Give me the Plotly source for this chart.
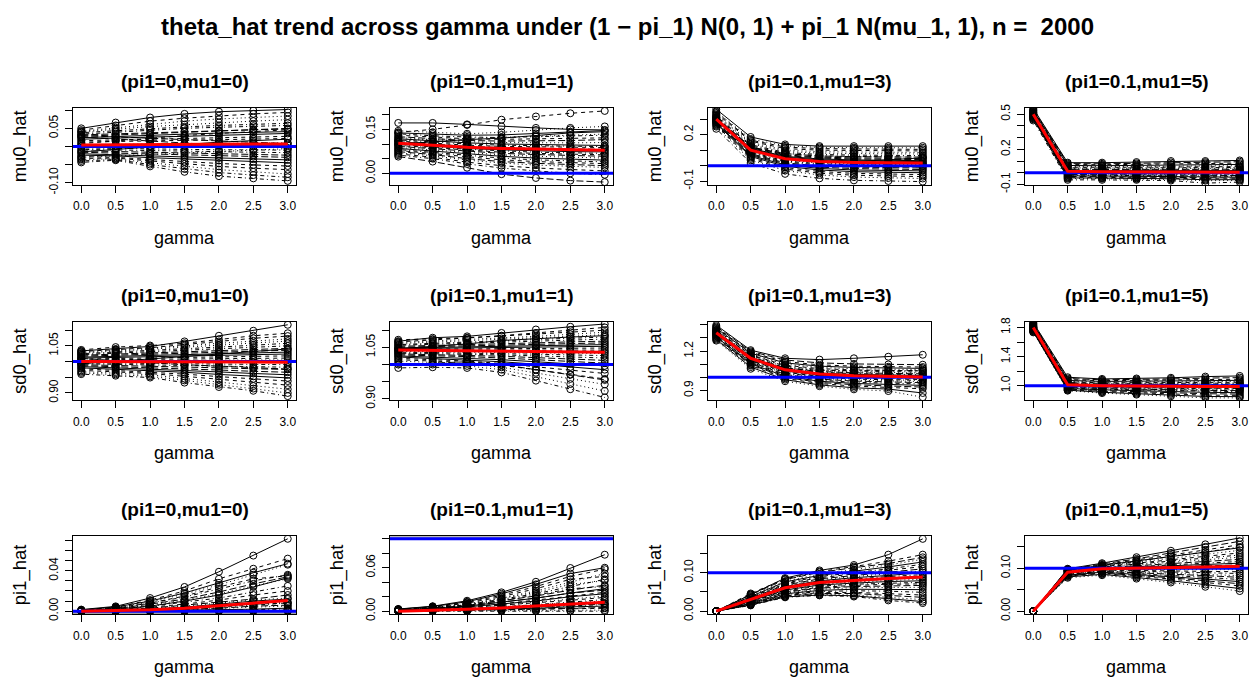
import plotly.graph_objects as go

# ---------------- data ----------------
gamma = [0.0, 0.5, 1.0, 1.5, 2.0, 2.5, 3.0]
gamma_labels = ["0.0", "0.5", "1.0", "1.5", "2.0", "2.5", "3.0"]

panel_titles = ["(pi1=0,mu1=0)", "(pi1=0.1,mu1=1)", "(pi1=0.1,mu1=3)", "(pi1=0.1,mu1=5)"]
param_names = ["mu0_hat", "sd0_hat", "pi1_hat"]
main_title = "theta_hat trend across gamma under (1 \u2212 pi_1) N(0, 1) + pi_1 N(mu_1, 1), n =  2000"

true_mu0 = [0.0, 0.0, 0.0, 0.0]
true_sd0 = [1.0, 1.0, 1.0, 1.0]
true_pi1 = [0.0, 0.1, 0.1, 0.1]

# ---- mu0_hat replicates ----
mu0_reps_1 = [
    [0.050, 0.066, 0.080, 0.090, 0.096, 0.099, 0.102],
    [0.045, 0.058, 0.070, 0.078, 0.085, 0.090, 0.094],
    [0.040, 0.048, 0.055, 0.060, 0.066, 0.070, 0.074],
    [0.034, 0.040, 0.046, 0.050, 0.053, 0.056, 0.058],
    [0.028, 0.032, 0.036, 0.040, 0.044, 0.048, 0.050],
    [0.020, 0.024, 0.026, 0.028, 0.031, 0.034, 0.036],
    [0.012, 0.014, 0.016, 0.018, 0.020, 0.021, 0.022],
    [0.005, 0.006, 0.007, 0.008, 0.008, 0.009, 0.010],
    [-0.004, -0.006, -0.006, -0.008, -0.009, -0.010, -0.010],
    [-0.012, -0.014, -0.017, -0.019, -0.021, -0.023, -0.024],
    [-0.020, -0.022, -0.026, -0.029, -0.032, -0.035, -0.037],
    [-0.028, -0.030, -0.036, -0.042, -0.047, -0.051, -0.054],
    [-0.036, -0.034, -0.045, -0.055, -0.064, -0.070, -0.076],
    [-0.044, -0.038, -0.055, -0.070, -0.082, -0.088, -0.095],
    [0.030, 0.026, 0.022, 0.018, 0.014, 0.012, 0.008],
    [-0.015, -0.008, 0.000, 0.006, 0.012, 0.016, 0.020],
    [0.008, 0.016, 0.024, 0.030, 0.036, 0.042, 0.046],
    [-0.030, -0.026, -0.020, -0.016, -0.012, -0.008, -0.006],
    [0.038, 0.044, 0.050, 0.054, 0.058, 0.061, 0.064],
    [0.032, 0.035, 0.038, 0.042, 0.044, 0.046, 0.048],
    [0.024, 0.028, 0.031, 0.034, 0.037, 0.040, 0.041],
    [0.016, 0.018, 0.020, 0.023, 0.025, 0.026, 0.028],
    [0.001, 0.001, 0.002, 0.002, 0.003, 0.003, 0.003],
    [-0.008, -0.010, -0.012, -0.013, -0.015, -0.016, -0.017],
    [-0.016, -0.018, -0.021, -0.024, -0.026, -0.028, -0.030],
    [-0.024, -0.026, -0.031, -0.035, -0.039, -0.042, -0.045],
    [-0.033, -0.032, -0.040, -0.048, -0.055, -0.060, -0.064],
    [0.042, 0.052, 0.062, 0.070, 0.076, 0.080, 0.084],
    [-0.040, -0.036, -0.050, -0.062, -0.072, -0.079, -0.085],
    [0.026, 0.020, 0.014, 0.009, 0.004, 0.000, -0.004],
]
mu0_reps_2 = [
    [0.172, 0.172, 0.167, 0.160, 0.155, 0.150, 0.148],
    [0.140, 0.150, 0.165, 0.183, 0.194, 0.205, 0.213],
    [0.145, 0.140, 0.135, 0.140, 0.148, 0.155, 0.160],
    [0.135, 0.128, 0.124, 0.122, 0.125, 0.128, 0.130],
    [0.125, 0.118, 0.112, 0.110, 0.110, 0.112, 0.115],
    [0.118, 0.110, 0.104, 0.100, 0.098, 0.096, 0.095],
    [0.110, 0.102, 0.096, 0.092, 0.090, 0.088, 0.088],
    [0.105, 0.096, 0.088, 0.084, 0.081, 0.079, 0.078],
    [0.098, 0.090, 0.082, 0.077, 0.072, 0.070, 0.068],
    [0.092, 0.084, 0.075, 0.068, 0.064, 0.060, 0.058],
    [0.085, 0.076, 0.066, 0.058, 0.052, 0.048, 0.045],
    [0.078, 0.068, 0.056, 0.046, 0.040, 0.036, 0.033],
    [0.070, 0.060, 0.045, 0.035, 0.028, 0.024, 0.020],
    [0.062, 0.050, 0.032, 0.018, 0.008, 0.000, -0.005],
    [0.057, 0.040, 0.019, -0.003, -0.016, -0.025, -0.030],
    [0.100, 0.108, 0.115, 0.120, 0.130, 0.138, 0.142],
    [0.130, 0.124, 0.118, 0.116, 0.117, 0.119, 0.121],
    [0.122, 0.114, 0.108, 0.105, 0.104, 0.104, 0.105],
    [0.114, 0.106, 0.100, 0.096, 0.094, 0.092, 0.091],
    [0.108, 0.099, 0.092, 0.088, 0.085, 0.083, 0.082],
    [0.101, 0.093, 0.085, 0.080, 0.076, 0.074, 0.073],
    [0.095, 0.087, 0.078, 0.072, 0.068, 0.065, 0.063],
    [0.088, 0.080, 0.070, 0.063, 0.058, 0.054, 0.052],
    [0.081, 0.072, 0.061, 0.052, 0.046, 0.042, 0.039],
    [0.074, 0.064, 0.050, 0.040, 0.034, 0.030, 0.026],
    [0.138, 0.134, 0.130, 0.131, 0.136, 0.142, 0.146],
    [0.066, 0.055, 0.038, 0.026, 0.018, 0.012, 0.008],
    [0.112, 0.116, 0.120, 0.124, 0.126, 0.130, 0.134],
]
mu0_reps_3 = [
    [0.364, 0.185, 0.137, 0.126, 0.126, 0.126, 0.126],
    [0.345, 0.165, 0.120, 0.110, 0.108, 0.106, 0.105],
    [0.330, 0.150, 0.100, 0.090, 0.088, 0.086, 0.085],
    [0.320, 0.135, 0.085, 0.072, 0.068, 0.066, 0.065],
    [0.312, 0.122, 0.070, 0.055, 0.050, 0.048, 0.046],
    [0.305, 0.112, 0.060, 0.043, 0.037, 0.034, 0.032],
    [0.300, 0.104, 0.050, 0.032, 0.025, 0.022, 0.020],
    [0.295, 0.096, 0.040, 0.022, 0.015, 0.012, 0.010],
    [0.290, 0.088, 0.030, 0.012, 0.005, 0.002, 0.000],
    [0.284, 0.078, 0.018, -0.002, -0.010, -0.013, -0.015],
    [0.276, 0.066, 0.005, -0.018, -0.028, -0.032, -0.034],
    [0.266, 0.052, -0.012, -0.038, -0.050, -0.055, -0.058],
    [0.252, 0.035, -0.032, -0.060, -0.074, -0.080, -0.083],
    [0.238, 0.017, -0.053, -0.082, -0.095, -0.099, -0.103],
    [0.310, 0.118, 0.078, 0.062, 0.058, 0.056, 0.055],
    [0.296, 0.094, 0.044, 0.030, 0.026, 0.040, 0.050],
    [0.338, 0.158, 0.110, 0.100, 0.098, 0.096, 0.095],
    [0.325, 0.142, 0.092, 0.081, 0.078, 0.076, 0.075],
    [0.316, 0.128, 0.078, 0.064, 0.059, 0.057, 0.055],
    [0.308, 0.117, 0.065, 0.049, 0.043, 0.041, 0.039],
    [0.302, 0.108, 0.055, 0.037, 0.031, 0.028, 0.026],
    [0.298, 0.100, 0.045, 0.027, 0.020, 0.017, 0.015],
    [0.292, 0.092, 0.035, 0.017, 0.010, 0.007, 0.005],
    [0.287, 0.083, 0.024, 0.005, -0.003, -0.006, -0.008],
    [0.280, 0.072, 0.012, -0.010, -0.019, -0.023, -0.025],
    [0.271, 0.059, -0.004, -0.028, -0.039, -0.044, -0.046],
    [0.259, 0.044, -0.022, -0.049, -0.062, -0.068, -0.071],
    [0.350, 0.172, 0.128, 0.118, 0.116, 0.115, 0.115],
]
mu0_reps_4 = [
    [0.550, 0.086, 0.086, 0.091, 0.100, 0.100, 0.105],
    [0.535, 0.070, 0.068, 0.070, 0.075, 0.080, 0.082],
    [0.525, 0.055, 0.052, 0.054, 0.056, 0.058, 0.060],
    [0.515, 0.042, 0.040, 0.040, 0.042, 0.044, 0.045],
    [0.508, 0.030, 0.028, 0.028, 0.029, 0.030, 0.030],
    [0.502, 0.020, 0.018, 0.017, 0.017, 0.018, 0.018],
    [0.498, 0.012, 0.010, 0.008, 0.008, 0.008, 0.008],
    [0.494, 0.004, 0.002, 0.000, -0.001, -0.001, -0.002],
    [0.488, -0.005, -0.007, -0.009, -0.010, -0.011, -0.012],
    [0.482, -0.015, -0.017, -0.019, -0.021, -0.023, -0.024],
    [0.475, -0.026, -0.028, -0.031, -0.034, -0.037, -0.038],
    [0.466, -0.038, -0.040, -0.043, -0.047, -0.052, -0.054],
    [0.457, -0.050, -0.051, -0.053, -0.058, -0.068, -0.067],
    [0.447, -0.061, -0.061, -0.061, -0.067, -0.089, -0.080],
    [0.540, 0.078, 0.076, 0.080, 0.088, 0.090, 0.094],
    [0.530, 0.062, 0.060, 0.062, 0.066, 0.069, 0.071],
    [0.520, 0.048, 0.046, 0.047, 0.049, 0.051, 0.052],
    [0.512, 0.036, 0.034, 0.034, 0.035, 0.037, 0.038],
    [0.505, 0.025, 0.023, 0.022, 0.023, 0.024, 0.024],
    [0.500, 0.016, 0.014, 0.012, 0.012, 0.013, 0.013],
    [0.496, 0.008, 0.006, 0.004, 0.003, 0.003, 0.003],
    [0.491, 0.000, -0.002, -0.004, -0.005, -0.006, -0.007],
    [0.485, -0.010, -0.012, -0.014, -0.016, -0.017, -0.018],
    [0.478, -0.020, -0.022, -0.025, -0.027, -0.030, -0.031],
    [0.470, -0.032, -0.034, -0.037, -0.040, -0.044, -0.046],
    [0.461, -0.044, -0.046, -0.048, -0.052, -0.060, -0.060],
]

# ---- sd0_hat replicates ----
sd0_reps_1 = [
    [1.034, 1.040, 1.048, 1.064, 1.082, 1.098, 1.117],
    [1.037, 1.046, 1.051, 1.058, 1.070, 1.082, 1.090],
    [1.030, 1.036, 1.042, 1.050, 1.058, 1.066, 1.072],
    [1.025, 1.030, 1.034, 1.040, 1.046, 1.052, 1.058],
    [1.020, 1.024, 1.026, 1.030, 1.034, 1.038, 1.042],
    [1.014, 1.017, 1.019, 1.022, 1.024, 1.027, 1.030],
    [1.008, 1.010, 1.011, 1.013, 1.014, 1.016, 1.018],
    [1.002, 1.003, 1.003, 1.004, 1.004, 1.005, 1.005],
    [0.996, 0.995, 0.994, 0.993, 0.992, 0.991, 0.990],
    [0.990, 0.988, 0.986, 0.983, 0.980, 0.977, 0.975],
    [0.984, 0.980, 0.977, 0.972, 0.967, 0.962, 0.958],
    [0.977, 0.972, 0.967, 0.960, 0.952, 0.945, 0.938],
    [0.968, 0.963, 0.958, 0.946, 0.934, 0.922, 0.912],
    [0.960, 0.955, 0.949, 0.933, 0.919, 0.907, 0.890],
    [1.010, 1.002, 0.996, 0.990, 0.985, 0.980, 0.976],
    [0.993, 1.000, 1.008, 1.016, 1.024, 1.032, 1.040],
    [1.032, 1.038, 1.044, 1.054, 1.064, 1.074, 1.081],
    [1.027, 1.033, 1.038, 1.045, 1.052, 1.059, 1.065],
    [1.022, 1.027, 1.030, 1.035, 1.040, 1.045, 1.050],
    [1.017, 1.020, 1.022, 1.026, 1.029, 1.032, 1.036],
    [1.011, 1.013, 1.015, 1.017, 1.019, 1.021, 1.024],
    [1.005, 1.006, 1.007, 1.008, 1.009, 1.010, 1.011],
    [0.999, 0.999, 0.998, 0.998, 0.998, 0.998, 0.997],
    [0.993, 0.991, 0.990, 0.988, 0.986, 0.984, 0.982],
    [0.987, 0.984, 0.981, 0.977, 0.973, 0.969, 0.966],
    [0.980, 0.976, 0.972, 0.966, 0.959, 0.953, 0.948],
    [0.972, 0.967, 0.962, 0.953, 0.943, 0.933, 0.925],
    [0.964, 0.959, 0.953, 0.940, 0.926, 0.914, 0.900],
]
sd0_reps_2 = [
    [1.068, 1.078, 1.082, 1.092, 1.102, 1.110, 1.118],
    [1.072, 1.074, 1.078, 1.084, 1.092, 1.100, 1.108],
    [1.064, 1.068, 1.072, 1.076, 1.082, 1.088, 1.094],
    [1.058, 1.062, 1.064, 1.068, 1.072, 1.076, 1.080],
    [1.053, 1.055, 1.057, 1.060, 1.063, 1.066, 1.068],
    [1.048, 1.050, 1.051, 1.052, 1.054, 1.056, 1.058],
    [1.044, 1.045, 1.045, 1.046, 1.046, 1.047, 1.048],
    [1.040, 1.040, 1.040, 1.039, 1.038, 1.038, 1.037],
    [1.036, 1.035, 1.034, 1.032, 1.030, 1.028, 1.026],
    [1.031, 1.029, 1.027, 1.024, 1.020, 1.016, 1.012],
    [1.025, 1.022, 1.019, 1.014, 1.008, 1.002, 0.996],
    [1.018, 1.014, 1.010, 1.003, 0.994, 0.984, 0.974],
    [1.010, 1.006, 1.002, 0.992, 0.976, 0.958, 0.942],
    [0.990, 0.992, 0.990, 0.977, 0.953, 0.928, 0.904],
    [1.000, 1.004, 1.008, 1.000, 0.985, 0.970, 0.955],
    [1.046, 1.052, 1.060, 1.070, 1.076, 1.080, 1.084],
    [1.066, 1.072, 1.076, 1.082, 1.088, 1.094, 1.100],
    [1.061, 1.065, 1.068, 1.072, 1.077, 1.082, 1.087],
    [1.056, 1.059, 1.061, 1.064, 1.068, 1.071, 1.074],
    [1.050, 1.052, 1.054, 1.056, 1.058, 1.061, 1.063],
    [1.046, 1.047, 1.048, 1.049, 1.050, 1.051, 1.053],
    [1.042, 1.042, 1.042, 1.042, 1.042, 1.042, 1.042],
    [1.038, 1.037, 1.037, 1.035, 1.034, 1.033, 1.032],
    [1.033, 1.032, 1.030, 1.028, 1.025, 1.022, 1.019],
    [1.028, 1.026, 1.023, 1.019, 1.014, 1.009, 1.004],
    [1.022, 1.018, 1.014, 1.008, 1.001, 0.993, 0.985],
    [1.014, 1.010, 1.006, 0.998, 0.985, 0.971, 0.958],
    [1.004, 1.000, 0.996, 0.985, 0.965, 0.943, 0.923],
]
sd0_reps_3 = [
    [1.398, 1.207, 1.145, 1.135, 1.145, 1.157, 1.172],
    [1.380, 1.190, 1.120, 1.095, 1.085, 1.080, 1.078],
    [1.368, 1.178, 1.100, 1.075, 1.065, 1.060, 1.058],
    [1.358, 1.168, 1.085, 1.058, 1.048, 1.043, 1.040],
    [1.350, 1.158, 1.072, 1.044, 1.034, 1.029, 1.026],
    [1.344, 1.150, 1.062, 1.032, 1.022, 1.017, 1.014],
    [1.338, 1.142, 1.053, 1.022, 1.010, 1.005, 1.002],
    [1.332, 1.134, 1.044, 1.012, 0.999, 0.993, 0.990],
    [1.326, 1.126, 1.034, 1.000, 0.986, 0.980, 0.976],
    [1.318, 1.116, 1.022, 0.986, 0.971, 0.964, 0.959],
    [1.308, 1.104, 1.008, 0.970, 0.953, 0.945, 0.938],
    [1.296, 1.090, 0.992, 0.952, 0.933, 0.924, 0.912],
    [1.280, 1.065, 0.970, 0.932, 0.908, 0.895, 0.848],
    [1.340, 1.150, 1.070, 1.052, 1.050, 1.050, 1.052],
    [1.388, 1.198, 1.132, 1.110, 1.102, 1.098, 1.096],
    [1.374, 1.184, 1.110, 1.085, 1.075, 1.070, 1.068],
    [1.362, 1.172, 1.092, 1.066, 1.056, 1.051, 1.049],
    [1.354, 1.163, 1.078, 1.051, 1.041, 1.036, 1.033],
    [1.347, 1.154, 1.067, 1.038, 1.028, 1.023, 1.020],
    [1.341, 1.146, 1.058, 1.027, 1.016, 1.011, 1.008],
    [1.335, 1.138, 1.048, 1.017, 1.004, 0.999, 0.996],
    [1.329, 1.130, 1.039, 1.006, 0.992, 0.986, 0.983],
    [1.322, 1.121, 1.028, 0.993, 0.978, 0.972, 0.968],
    [1.313, 1.110, 1.015, 0.978, 0.962, 0.955, 0.949],
    [1.302, 1.097, 1.000, 0.961, 0.943, 0.934, 0.925],
    [1.288, 1.078, 0.982, 0.942, 0.920, 0.910, 0.880],
]
sd0_reps_4 = [
    [1.867, 1.117, 1.094, 1.100, 1.110, 1.126, 1.135],
    [1.850, 1.085, 1.070, 1.072, 1.078, 1.085, 1.090],
    [1.835, 1.062, 1.050, 1.050, 1.052, 1.056, 1.060],
    [1.822, 1.045, 1.033, 1.032, 1.033, 1.035, 1.036],
    [1.812, 1.032, 1.020, 1.018, 1.017, 1.018, 1.018],
    [1.804, 1.020, 1.008, 1.005, 1.003, 1.002, 1.001],
    [1.797, 1.010, 0.998, 0.994, 0.991, 0.989, 0.987],
    [1.790, 1.000, 0.988, 0.982, 0.978, 0.975, 0.972],
    [1.782, 0.990, 0.976, 0.968, 0.962, 0.957, 0.954],
    [1.772, 0.978, 0.962, 0.952, 0.944, 0.937, 0.933],
    [1.760, 0.963, 0.945, 0.932, 0.920, 0.910, 0.905],
    [1.748, 0.948, 0.922, 0.906, 0.890, 0.872, 0.868],
    [1.733, 0.933, 0.900, 0.879, 0.856, 0.834, 0.834],
    [1.800, 1.014, 1.002, 1.000, 0.998, 0.996, 0.995],
    [1.858, 1.100, 1.082, 1.086, 1.094, 1.105, 1.112],
    [1.842, 1.073, 1.060, 1.061, 1.065, 1.070, 1.075],
    [1.828, 1.053, 1.041, 1.041, 1.042, 1.045, 1.048],
    [1.817, 1.038, 1.026, 1.025, 1.025, 1.026, 1.027],
    [1.808, 1.026, 1.014, 1.011, 1.010, 1.010, 1.009],
    [1.800, 1.015, 1.003, 0.999, 0.997, 0.995, 0.994],
    [1.793, 1.005, 0.993, 0.988, 0.984, 0.982, 0.979],
    [1.786, 0.995, 0.982, 0.975, 0.970, 0.966, 0.963],
    [1.777, 0.984, 0.969, 0.960, 0.953, 0.947, 0.943],
    [1.766, 0.970, 0.953, 0.942, 0.932, 0.923, 0.919],
    [1.754, 0.955, 0.934, 0.919, 0.905, 0.891, 0.886],
    [1.740, 0.940, 0.911, 0.892, 0.873, 0.853, 0.851],
]

# ---- pi1_hat replicates ----
pi1_reps_1 = [
    [0.0016, 0.0048, 0.013, 0.024, 0.039, 0.055, 0.0716],
    [0.0010, 0.0040, 0.011, 0.020, 0.032, 0.042, 0.052],
    [0.0008, 0.0035, 0.009, 0.017, 0.026, 0.036, 0.046],
    [0.0005, 0.0030, 0.008, 0.014, 0.022, 0.030, 0.036],
    [0.0004, 0.0025, 0.007, 0.012, 0.019, 0.027, 0.034],
    [0.0002, 0.0020, 0.005, 0.010, 0.016, 0.024, 0.033],
    [0.0000, 0.0015, 0.004, 0.007, 0.011, 0.016, 0.020],
    [0.0000, 0.0010, 0.003, 0.005, 0.008, 0.011, 0.013],
    [0.0000, 0.0008, 0.002, 0.004, 0.006, 0.008, 0.009],
    [0.0000, 0.0005, 0.001, 0.002, 0.003, 0.005, 0.006],
    [0.0000, 0.0002, 0.0005, 0.001, 0.0015, 0.002, 0.003],
    [0.0000, 0.0000, 0.0002, 0.0004, 0.0006, 0.0008, 0.001],
    [0.0000, 0.0000, 0.0000, 0.0000, 0.0000, 0.0000, 0.000],
    [0.0000, 0.0003, 0.0010, 0.0025, 0.004, 0.006, 0.008],
    [0.0000, 0.0000, 0.0001, 0.0002, 0.0003, 0.0004, 0.0005],
    [0.0012, 0.0042, 0.010, 0.018, 0.028, 0.038, 0.047],
    [0.0006, 0.0032, 0.008, 0.015, 0.024, 0.032, 0.035],
    [0.0003, 0.0022, 0.006, 0.011, 0.017, 0.025, 0.032],
    [0.0000, 0.0018, 0.005, 0.009, 0.013, 0.019, 0.025],
    [0.0000, 0.0012, 0.003, 0.006, 0.009, 0.012, 0.016],
    [0.0000, 0.0008, 0.002, 0.004, 0.007, 0.010, 0.012],
    [0.0000, 0.0004, 0.001, 0.003, 0.005, 0.007, 0.008],
    [0.0000, 0.0002, 0.0006, 0.0015, 0.003, 0.004, 0.005],
    [0.0000, 0.0001, 0.0003, 0.0008, 0.0012, 0.0018, 0.002],
    [0.0000, 0.0000, 0.0000, 0.0001, 0.0002, 0.0003, 0.0004],
]
pi1_reps_2 = [
    [0.0030, 0.0068, 0.0144, 0.026, 0.0406, 0.0596, 0.078],
    [0.0025, 0.0060, 0.012, 0.022, 0.034, 0.048, 0.058],
    [0.0020, 0.0050, 0.010, 0.018, 0.028, 0.040, 0.052],
    [0.0018, 0.0045, 0.009, 0.016, 0.024, 0.034, 0.044],
    [0.0015, 0.0040, 0.008, 0.014, 0.021, 0.029, 0.036],
    [0.0012, 0.0035, 0.007, 0.012, 0.018, 0.025, 0.031],
    [0.0010, 0.0030, 0.006, 0.010, 0.015, 0.021, 0.026],
    [0.0008, 0.0025, 0.005, 0.008, 0.012, 0.017, 0.021],
    [0.0005, 0.0020, 0.004, 0.006, 0.009, 0.013, 0.016],
    [0.0004, 0.0015, 0.003, 0.005, 0.007, 0.009, 0.011],
    [0.0002, 0.0010, 0.002, 0.003, 0.004, 0.006, 0.007],
    [0.0000, 0.0005, 0.001, 0.0015, 0.002, 0.003, 0.004],
    [0.0000, 0.0002, 0.0004, 0.0006, 0.0008, 0.001, 0.0015],
    [0.0000, 0.0000, 0.0000, 0.0000, 0.0000, 0.0000, 0.000],
    [0.0000, 0.0008, 0.002, 0.004, 0.006, 0.008, 0.010],
    [0.0028, 0.0064, 0.013, 0.024, 0.037, 0.052, 0.060],
    [0.0022, 0.0055, 0.011, 0.020, 0.031, 0.044, 0.048],
    [0.0017, 0.0046, 0.009, 0.017, 0.026, 0.037, 0.042],
    [0.0014, 0.0040, 0.008, 0.015, 0.022, 0.031, 0.034],
    [0.0011, 0.0033, 0.007, 0.012, 0.018, 0.025, 0.029],
    [0.0009, 0.0027, 0.006, 0.010, 0.014, 0.020, 0.024],
    [0.0006, 0.0022, 0.005, 0.008, 0.011, 0.015, 0.019],
    [0.0004, 0.0016, 0.003, 0.006, 0.009, 0.012, 0.014],
    [0.0002, 0.0010, 0.002, 0.004, 0.006, 0.008, 0.009],
    [0.0000, 0.0004, 0.001, 0.002, 0.003, 0.004, 0.005],
]
pi1_reps_3 = [
    [0.0, 0.044, 0.086, 0.106, 0.120, 0.147, 0.188],
    [0.0, 0.046, 0.084, 0.103, 0.116, 0.130, 0.147],
    [0.0, 0.041, 0.078, 0.096, 0.108, 0.120, 0.135],
    [0.0, 0.037, 0.073, 0.090, 0.100, 0.110, 0.122],
    [0.0, 0.034, 0.068, 0.084, 0.093, 0.101, 0.110],
    [0.0, 0.031, 0.064, 0.079, 0.087, 0.093, 0.100],
    [0.0, 0.029, 0.060, 0.074, 0.081, 0.086, 0.091],
    [0.0, 0.027, 0.057, 0.070, 0.076, 0.080, 0.083],
    [0.0, 0.025, 0.053, 0.065, 0.070, 0.073, 0.075],
    [0.0, 0.022, 0.049, 0.060, 0.064, 0.066, 0.067],
    [0.0, 0.020, 0.045, 0.054, 0.057, 0.057, 0.056],
    [0.0, 0.018, 0.041, 0.048, 0.049, 0.046, 0.042],
    [0.0, 0.016, 0.038, 0.044, 0.042, 0.036, 0.030],
    [0.0, 0.015, 0.036, 0.041, 0.038, 0.028, 0.021],
    [0.0, 0.043, 0.082, 0.101, 0.113, 0.124, 0.140],
    [0.0, 0.039, 0.076, 0.093, 0.104, 0.115, 0.128],
    [0.0, 0.036, 0.071, 0.087, 0.097, 0.106, 0.116],
    [0.0, 0.033, 0.066, 0.082, 0.090, 0.097, 0.105],
    [0.0, 0.030, 0.062, 0.077, 0.084, 0.090, 0.095],
    [0.0, 0.028, 0.059, 0.072, 0.079, 0.083, 0.087],
    [0.0, 0.026, 0.055, 0.068, 0.073, 0.077, 0.079],
    [0.0, 0.024, 0.051, 0.062, 0.067, 0.070, 0.071],
    [0.0, 0.021, 0.047, 0.057, 0.061, 0.062, 0.062],
    [0.0, 0.019, 0.043, 0.051, 0.053, 0.052, 0.049],
    [0.0, 0.017, 0.040, 0.046, 0.046, 0.041, 0.036],
    [0.0, 0.016, 0.037, 0.042, 0.040, 0.032, 0.025],
]
pi1_reps_4 = [
    [0.0, 0.099, 0.112, 0.126, 0.141, 0.156, 0.171],
    [0.0, 0.097, 0.108, 0.119, 0.131, 0.143, 0.155],
    [0.0, 0.095, 0.105, 0.114, 0.123, 0.133, 0.142],
    [0.0, 0.094, 0.103, 0.110, 0.117, 0.124, 0.131],
    [0.0, 0.093, 0.101, 0.106, 0.111, 0.116, 0.121],
    [0.0, 0.092, 0.100, 0.103, 0.106, 0.109, 0.112],
    [0.0, 0.091, 0.099, 0.100, 0.102, 0.104, 0.105],
    [0.0, 0.090, 0.097, 0.097, 0.097, 0.097, 0.097],
    [0.0, 0.088, 0.095, 0.093, 0.092, 0.090, 0.088],
    [0.0, 0.086, 0.093, 0.090, 0.087, 0.083, 0.079],
    [0.0, 0.084, 0.091, 0.086, 0.081, 0.075, 0.069],
    [0.0, 0.082, 0.088, 0.082, 0.075, 0.067, 0.059],
    [0.0, 0.078, 0.084, 0.076, 0.067, 0.057, 0.047],
    [0.0, 0.096, 0.106, 0.116, 0.128, 0.138, 0.150],
    [0.0, 0.098, 0.110, 0.122, 0.136, 0.150, 0.163],
    [0.0, 0.096, 0.107, 0.117, 0.127, 0.138, 0.148],
    [0.0, 0.095, 0.104, 0.112, 0.120, 0.128, 0.136],
    [0.0, 0.094, 0.102, 0.108, 0.114, 0.120, 0.126],
    [0.0, 0.093, 0.100, 0.104, 0.108, 0.112, 0.116],
    [0.0, 0.092, 0.099, 0.101, 0.104, 0.106, 0.108],
    [0.0, 0.090, 0.098, 0.099, 0.099, 0.100, 0.101],
    [0.0, 0.089, 0.096, 0.095, 0.094, 0.093, 0.092],
    [0.0, 0.087, 0.094, 0.091, 0.089, 0.086, 0.083],
    [0.0, 0.085, 0.092, 0.088, 0.084, 0.079, 0.074],
    [0.0, 0.083, 0.089, 0.084, 0.078, 0.071, 0.064],
    [0.0, 0.080, 0.086, 0.079, 0.071, 0.062, 0.053],
]

# ---- mean curves (red) ----
mu0_mean = [
    [0.004, 0.005, 0.005, 0.006, 0.006, 0.007, 0.007],
    [0.103, 0.095, 0.089, 0.085, 0.083, 0.081, 0.079],
    [0.300, 0.100, 0.044, 0.027, 0.021, 0.019, 0.017],
    [0.500, 0.012, 0.008, 0.006, 0.005, 0.004, 0.004],
]
sd0_mean = [
    [1.000, 1.000, 1.000, 1.000, 0.999, 0.999, 0.998],
    [1.042, 1.041, 1.040, 1.039, 1.038, 1.037, 1.036],
    [1.340, 1.145, 1.057, 1.025, 1.0125, 1.0075, 1.0025],
    [1.800, 1.013, 1.000, 0.995, 0.992, 0.990, 0.990],
]
pi1_mean = [
    [0.0, 0.0005, 0.0015, 0.003, 0.0055, 0.008, 0.0105],
    [0.0, 0.001, 0.0025, 0.0045, 0.007, 0.0095, 0.0125],
    [0.0, 0.0297, 0.061, 0.0746, 0.0805, 0.0847, 0.089],
    [0.0, 0.091, 0.099, 0.100, 0.101, 0.103, 0.105],
]

reps = [
    [mu0_reps_1, mu0_reps_2, mu0_reps_3, mu0_reps_4],
    [sd0_reps_1, sd0_reps_2, sd0_reps_3, sd0_reps_4],
    [pi1_reps_1, pi1_reps_2, pi1_reps_3, pi1_reps_4],
]
means = [mu0_mean, sd0_mean, pi1_mean]
truths = [true_mu0, true_sd0, true_pi1]

# ---------------- styling / layout ----------------
W, H = 1254, 689
FONT = "Liberation Sans, Arial, Helvetica, sans-serif"
col_px = [(73, 296), (390, 613), (708, 931), (1025, 1248)]
row_px = [(105, 184), (324, 404), (543, 623)]
XR = [-0.12, 3.12]

y_ranges = [
    [[-0.1064, 0.107], [-0.040, 0.224], [-0.125, 0.374], [-0.105, 0.556]],
    [[0.877, 1.126], [0.896, 1.124], [0.825, 1.4225], [0.802, 1.876]],
    [[-0.0032, 0.0742], [-0.0045, 0.1036], [-0.0085, 0.195], [-0.0075, 0.175]],
]
y_ticks = [
    [([-0.10, -0.05, 0.0, 0.05, 0.10], ["-0.10", "", "", "0.05", ""]),
     ([0.0, 0.05, 0.10, 0.15, 0.20], ["0.00", "", "", "0.15", ""]),
     ([-0.1, 0.0, 0.1, 0.2, 0.3], ["-0.1", "", "", "0.2", ""]),
     ([-0.1, 0.0, 0.1, 0.2, 0.3, 0.4, 0.5], ["-0.1", "", "", "0.2", "", "", "0.5"])],
    [([0.90, 0.95, 1.00, 1.05, 1.10], ["0.90", "", "", "1.05", ""]),
     ([0.90, 0.95, 1.00, 1.05, 1.10], ["0.90", "", "", "1.05", ""]),
     ([0.9, 1.0, 1.1, 1.2, 1.3, 1.4], ["0.9", "", "", "1.2", "", ""]),
     ([1.0, 1.2, 1.4, 1.6, 1.8], ["1.0", "", "1.4", "", "1.8"])],
    [([0.0, 0.01, 0.02, 0.03, 0.04, 0.05, 0.06, 0.07], ["0.00", "", "", "", "0.04", "", "", ""]),
     ([0.0, 0.02, 0.04, 0.06, 0.08, 0.10], ["0.00", "", "", "0.06", "", ""]),
     ([0.0, 0.05, 0.10, 0.15], ["0.00", "", "0.10", ""]),
     ([0.0, 0.05, 0.10, 0.15], ["0.00", "", "0.10", ""])],
]
dashes = ["solid", "4px,4px", "1px,3px", "1px,3px,4px,3px", "7px,3px"]

fig = go.Figure()
layout = dict(
    width=W, height=H, margin=dict(l=0, r=0, t=0, b=0),
    paper_bgcolor="white", plot_bgcolor="white", showlegend=False,
    font=dict(family=FONT, color="black"),
)
annotations = []
shapes = []


def px_x(p):
    return p / W


def px_y(p):
    return 1 - p / H


for r in range(3):
    for c in range(4):
        k = r * 4 + c + 1
        xa = "x" if k == 1 else f"x{k}"
        ya = "y" if k == 1 else f"y{k}"
        xkey = "xaxis" if k == 1 else f"xaxis{k}"
        ykey = "yaxis" if k == 1 else f"yaxis{k}"
        x0, x1 = col_px[c]
        t0, t1 = row_px[r]

        for i, ys in enumerate(reps[r][c]):
            fig.add_trace(go.Scatter(
                x=gamma, y=ys, xaxis=xa, yaxis=ya, mode="lines+markers",
                line=dict(color="black", width=1, dash=dashes[i % 5]),
                marker=dict(symbol="circle-open", size=7, color="black",
                            line=dict(width=1, color="black")),
                hoverinfo="skip", cliponaxis=True,
            ))
        fig.add_trace(go.Scatter(
            x=XR, y=[truths[r][c]] * 2, xaxis=xa, yaxis=ya, mode="lines",
            line=dict(color="#0000FF", width=3), hoverinfo="skip",
        ))
        fig.add_trace(go.Scatter(
            x=gamma, y=means[r][c], xaxis=xa, yaxis=ya, mode="lines",
            line=dict(color="#FF0000", width=3), hoverinfo="skip",
        ))

        layout[xkey] = dict(
            domain=[px_x(x0), px_x(x1)], anchor=ya, range=XR,
            tickvals=gamma, ticktext=gamma_labels, ticks="outside", ticklen=7,
            tickcolor="black", tickwidth=1, showline=True, linecolor="black",
            linewidth=1, mirror=True, showgrid=False, zeroline=False,
            tickfont=dict(size=12, family=FONT, color="black"),
            ticklabelstandoff=3,
        )
        tv, tt = y_ticks[r][c]
        layout[ykey] = dict(
            domain=[px_y(t1), px_y(t0)], anchor=xa, range=y_ranges[r][c],
            tickvals=tv, ticktext=tt, ticks="outside", ticklen=7,
            tickcolor="black", tickwidth=1, showline=True, linecolor="black",
            linewidth=1, mirror=True, showgrid=False, zeroline=False,
            tickangle=-90, tickfont=dict(size=12, family=FONT, color="black"),
            ticklabelstandoff=2,
        )
        cx = (x0 + x1) / 2
        annotations.append(dict(
            text="<b>" + panel_titles[c] + "</b>", x=px_x(cx), y=px_y(t0 - 27),
            xref="paper", yref="paper", xanchor="center", yanchor="middle",
            showarrow=False, font=dict(size=19, family=FONT, color="black"),
        ))
        annotations.append(dict(
            text="gamma", x=px_x(cx), y=px_y(t1 + 54),
            xref="paper", yref="paper", xanchor="center", yanchor="middle",
            showarrow=False, font=dict(size=18, family=FONT, color="black"),
        ))
        annotations.append(dict(
            text=param_names[r], x=px_x(x0 - 53), y=px_y((t0 + t1) / 2),
            xref="paper", yref="paper", xanchor="center", yanchor="middle",
            textangle=-90, showarrow=False,
            font=dict(size=18.5, family=FONT, color="black"),
        ))

# faint grey band next to the truth line in two pi1_hat panels
shapes.append(dict(type="rect", xref="x9 domain", yref="y9", x0=0, x1=1,
                   ysizemode="pixel", yanchor=true_pi1[0], y0=-4, y1=-1,
                   fillcolor="#a0a0a8", line=dict(width=0), layer="below"))
shapes.append(dict(type="rect", xref="x10 domain", yref="y10", x0=0, x1=1,
                   ysizemode="pixel", yanchor=true_pi1[1], y0=1, y1=4,
                   fillcolor="#a0a0a8", line=dict(width=0), layer="below"))

annotations.append(dict(
    text="<b>" + main_title + "</b>", x=0.5, y=px_y(22), xref="paper", yref="paper",
    xanchor="center", yanchor="middle", showarrow=False,
    font=dict(size=24, family=FONT, color="black"),
))

layout["annotations"] = annotations
layout["shapes"] = shapes
fig.update_layout(**layout)
fig.write_html("out.html")
